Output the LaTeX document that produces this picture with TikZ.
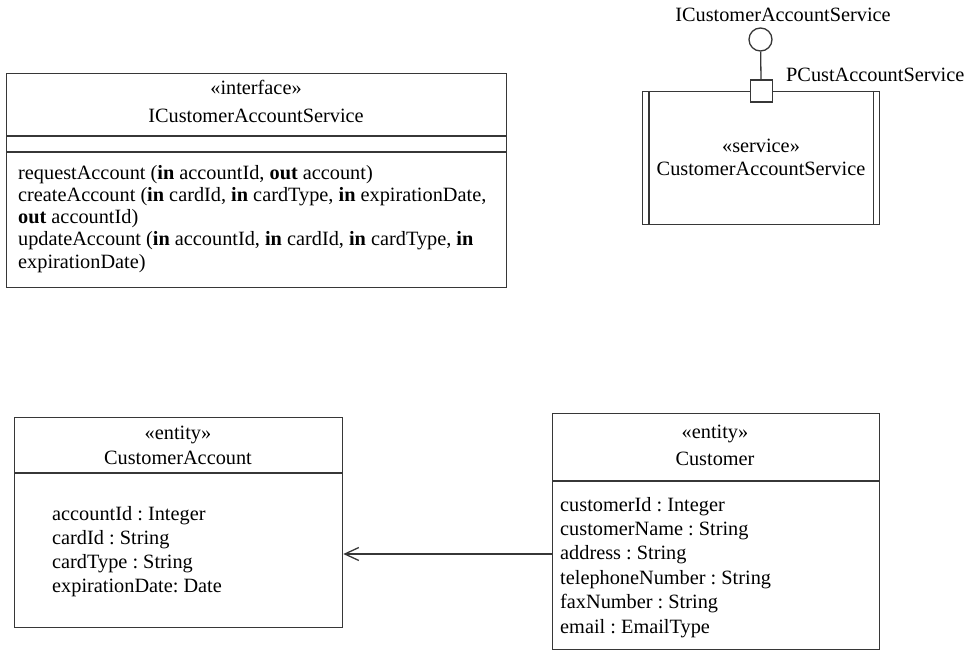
\documentclass[tikz,border=0pt]{standalone}
\usepackage{fontspec}
\setmainfont{Liberation Serif}
\usetikzlibrary{arrows.meta,positioning}
\definecolor{umlline}{RGB}{55,55,55}
\tikzset{
  umlbox/.style={draw=umlline,line width=1.3pt,inner sep=0pt,anchor=north west},
  umlrule/.style={draw=umlline,line width=1.3pt},
  ltxt/.style={anchor=base west,inner sep=0pt,font=\fontsize{20.3}{22}\selectfont},
  ctxt/.style={anchor=base,inner sep=0pt,font=\fontsize{20.3}{22}\selectfont},
}
\frenchspacing

\begin{document}
\begin{tikzpicture}[x=1pt,y=-1pt]
  \useasboundingbox (0,0) rectangle (967,650);
  % interface class
  \node[umlbox,minimum width=500pt,minimum height=214pt] (ifc) at (6,73) {};
  \draw[umlrule] (ifc.north west) ++(0,63) -- ++(500,0);
  \draw[umlrule] (ifc.north west) ++(0,79) -- ++(500,0);
  \node[ctxt] (ifcstereo) at (256,95) {«interface»};
  \node[ctxt] (ifcname) at (256,123) {ICustomerAccountService};
  \foreach \op [count=\i] in {%
      {requestAccount (\textbf{in} accountId, \textbf{out} account)},
      {createAccount (\textbf{in} cardId, \textbf{in} cardType, \textbf{in} expirationDate,},
      {\textbf{out} accountId)},
      {updateAccount (\textbf{in} accountId, \textbf{in} cardId, \textbf{in} cardType, \textbf{in}},
      {expirationDate)}}
    \node[ltxt] (ifcop\i) at (18,{179+22.25*(\i-1)}) {\op};

  % service component with port and provided interface
  \node[umlbox,minimum width=237pt,minimum height=133pt] (svc) at (642,91) {};
  \draw[umlrule] (svc.north west) ++(7,0) -- ++(0,133);
  \draw[umlrule] (svc.north east) ++(-7,0) -- ++(0,133);
  \node[ctxt] (svcstereo) at (761,153) {«service»};
  \node[ctxt] (svcname) at (761,175.7) {CustomerAccountService};
  \node[draw=umlline,line width=1.3pt,fill=white,minimum size=22pt,inner sep=0pt] (pcust) at (svc.north) {};
  \node[circle,draw=umlline,line width=1.3pt,minimum size=23pt,inner sep=0pt] (ball) at (760.5,39.5) {};
  \draw[umlrule] (pcust) -- (ball);
  \node[ctxt] (ballname) at (783,21.7) {ICustomerAccountService};
  \node[ltxt] (pcustname) at (786,81.7) {PCustAccountService};

  % entity CustomerAccount
  \node[umlbox,minimum width=328pt,minimum height=210pt] (acct) at (14,417) {};
  \draw[umlrule] (acct.north west) ++(0,56) -- ++(328,0);
  \node[ctxt] (acctstereo) at (178,439) {«entity»};
  \node[ctxt] (acctname) at (178,464) {CustomerAccount};
  \foreach \att [count=\i] in {accountId : Integer, cardId : String,
      cardType : String, expirationDate: Date}
    \node[ltxt] (acctatt\i) at (52,{520+24.3*(\i-1)}) {\att};

  % entity Customer
  \node[umlbox,minimum width=327pt,minimum height=236pt] (cust) at (552,413) {};
  \draw[umlrule] (cust.north west) ++(0,68) -- ++(327,0);
  \node[ctxt] (custstereo) at (715,438) {«entity»};
  \node[ctxt] (custname) at (715,465) {Customer};
  \foreach \att [count=\i] in {customerId : Integer, customerName : String,
      address : String, telephoneNumber : String, faxNumber : String,
      email : EmailType}
    \node[ltxt] (custatt\i) at (560,{511+24.4*(\i-1)}) {\att};

  % association
  \coordinate (assoc) at (552,554);
  \draw[umlrule,-{Straight Barb[length=14pt,width=13pt]}] (cust.west |- assoc) -- (acct.east |- assoc);
\end{tikzpicture}
\end{document}
